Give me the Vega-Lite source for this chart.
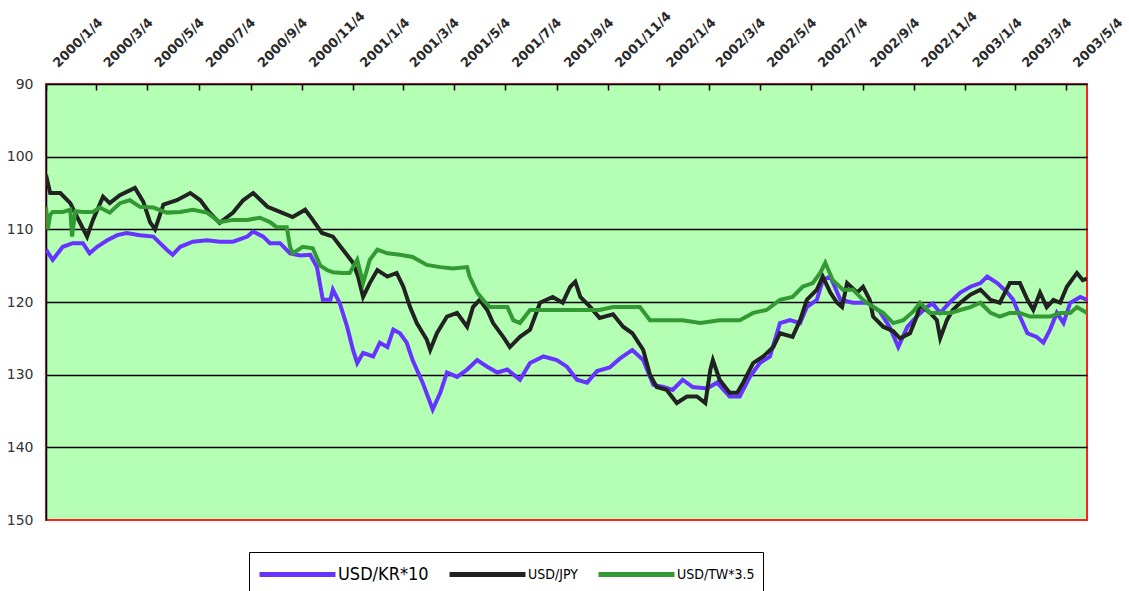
{
  "$schema": "https://vega.github.io/schema/vega-lite/v6.json",
  "autosize": "none",
  "width": 1041,
  "height": 436,
  "padding": {"left": 46, "top": 84, "right": 42, "bottom": 71},
  "background": "white",
  "config": {
    "view": {"fill": "#b4ffb4", "stroke": "#ff2020", "strokeWidth": 2},
    "axis": {"labelFont": "DejaVu Sans", "labelColor": "#333333"}
  },
  "data": {"values": [
{"d":"2000-01-04","s":"USD/KR*10","v":112.8},{"d":"2000-01-12","s":"USD/KR*10","v":114.2},{"d":"2000-01-24","s":"USD/KR*10","v":112.4},{"d":"2000-02-05","s":"USD/KR*10","v":111.9},{"d":"2000-02-17","s":"USD/KR*10","v":111.9},{"d":"2000-02-25","s":"USD/KR*10","v":113.3},{"d":"2000-03-05","s":"USD/KR*10","v":112.4},{"d":"2000-03-17","s":"USD/KR*10","v":111.5},{"d":"2000-03-29","s":"USD/KR*10","v":110.8},{"d":"2000-04-09","s":"USD/KR*10","v":110.5},{"d":"2000-04-25","s":"USD/KR*10","v":110.8},{"d":"2000-05-11","s":"USD/KR*10","v":111.0},{"d":"2000-05-27","s":"USD/KR*10","v":112.8},{"d":"2000-06-03","s":"USD/KR*10","v":113.5},{"d":"2000-06-12","s":"USD/KR*10","v":112.4},{"d":"2000-06-27","s":"USD/KR*10","v":111.7},{"d":"2000-07-14","s":"USD/KR*10","v":111.5},{"d":"2000-07-29","s":"USD/KR*10","v":111.7},{"d":"2000-08-14","s":"USD/KR*10","v":111.7},{"d":"2000-08-31","s":"USD/KR*10","v":111.0},{"d":"2000-09-07","s":"USD/KR*10","v":110.3},{"d":"2000-09-19","s":"USD/KR*10","v":111.0},{"d":"2000-09-27","s":"USD/KR*10","v":111.9},{"d":"2000-10-09","s":"USD/KR*10","v":111.9},{"d":"2000-10-21","s":"USD/KR*10","v":113.3},{"d":"2000-11-02","s":"USD/KR*10","v":113.6},{"d":"2000-11-14","s":"USD/KR*10","v":113.5},{"d":"2000-11-22","s":"USD/KR*10","v":115.2},{"d":"2000-11-29","s":"USD/KR*10","v":119.7},{"d":"2000-12-08","s":"USD/KR*10","v":119.7},{"d":"2000-12-11","s":"USD/KR*10","v":118.3},{"d":"2000-12-19","s":"USD/KR*10","v":120.1},{"d":"2000-12-28","s":"USD/KR*10","v":123.4},{"d":"2001-01-04","s":"USD/KR*10","v":126.6},{"d":"2001-01-09","s":"USD/KR*10","v":128.4},{"d":"2001-01-16","s":"USD/KR*10","v":127.0},{"d":"2001-01-28","s":"USD/KR*10","v":127.5},{"d":"2001-02-05","s":"USD/KR*10","v":125.6},{"d":"2001-02-14","s":"USD/KR*10","v":126.2},{"d":"2001-02-21","s":"USD/KR*10","v":123.8},{"d":"2001-03-01","s":"USD/KR*10","v":124.3},{"d":"2001-03-09","s":"USD/KR*10","v":125.6},{"d":"2001-03-16","s":"USD/KR*10","v":128.0},{"d":"2001-03-28","s":"USD/KR*10","v":131.1},{"d":"2001-04-09","s":"USD/KR*10","v":134.8},{"d":"2001-04-18","s":"USD/KR*10","v":132.5},{"d":"2001-04-26","s":"USD/KR*10","v":129.7},{"d":"2001-05-08","s":"USD/KR*10","v":130.3},{"d":"2001-05-20","s":"USD/KR*10","v":129.3},{"d":"2001-06-01","s":"USD/KR*10","v":128.0},{"d":"2001-06-13","s":"USD/KR*10","v":128.9},{"d":"2001-06-25","s":"USD/KR*10","v":129.7},{"d":"2001-07-07","s":"USD/KR*10","v":129.3},{"d":"2001-07-22","s":"USD/KR*10","v":130.7},{"d":"2001-08-03","s":"USD/KR*10","v":128.4},{"d":"2001-08-19","s":"USD/KR*10","v":127.5},{"d":"2001-09-04","s":"USD/KR*10","v":128.0},{"d":"2001-09-16","s":"USD/KR*10","v":128.9},{"d":"2001-09-28","s":"USD/KR*10","v":130.7},{"d":"2001-10-10","s":"USD/KR*10","v":131.1},{"d":"2001-10-22","s":"USD/KR*10","v":129.5},{"d":"2001-11-06","s":"USD/KR*10","v":129.0},{"d":"2001-11-18","s":"USD/KR*10","v":127.8},{"d":"2001-12-03","s":"USD/KR*10","v":126.6},{"d":"2001-12-16","s":"USD/KR*10","v":128.0},{"d":"2001-12-28","s":"USD/KR*10","v":131.4},{"d":"2002-01-09","s":"USD/KR*10","v":131.7},{"d":"2002-01-20","s":"USD/KR*10","v":132.1},{"d":"2002-02-01","s":"USD/KR*10","v":130.7},{"d":"2002-02-13","s":"USD/KR*10","v":131.7},{"d":"2002-03-02","s":"USD/KR*10","v":131.9},{"d":"2002-03-14","s":"USD/KR*10","v":131.1},{"d":"2002-03-29","s":"USD/KR*10","v":133.0},{"d":"2002-04-10","s":"USD/KR*10","v":133.0},{"d":"2002-04-22","s":"USD/KR*10","v":130.3},{"d":"2002-05-04","s":"USD/KR*10","v":128.4},{"d":"2002-05-16","s":"USD/KR*10","v":127.5},{"d":"2002-05-28","s":"USD/KR*10","v":122.9},{"d":"2002-06-09","s":"USD/KR*10","v":122.5},{"d":"2002-06-21","s":"USD/KR*10","v":122.9},{"d":"2002-06-29","s":"USD/KR*10","v":120.7},{"d":"2002-07-11","s":"USD/KR*10","v":119.7},{"d":"2002-07-18","s":"USD/KR*10","v":117.0},{"d":"2002-07-27","s":"USD/KR*10","v":116.5},{"d":"2002-08-08","s":"USD/KR*10","v":119.7},{"d":"2002-08-23","s":"USD/KR*10","v":120.1},{"d":"2002-09-09","s":"USD/KR*10","v":120.1},{"d":"2002-09-24","s":"USD/KR*10","v":121.3},{"d":"2002-10-06","s":"USD/KR*10","v":123.5},{"d":"2002-10-16","s":"USD/KR*10","v":126.2},{"d":"2002-10-27","s":"USD/KR*10","v":123.4},{"d":"2002-11-07","s":"USD/KR*10","v":122.0},{"d":"2002-11-19","s":"USD/KR*10","v":120.7},{"d":"2002-11-26","s":"USD/KR*10","v":120.2},{"d":"2002-12-05","s":"USD/KR*10","v":121.5},{"d":"2002-12-17","s":"USD/KR*10","v":120.0},{"d":"2002-12-29","s":"USD/KR*10","v":118.7},{"d":"2003-01-10","s":"USD/KR*10","v":117.9},{"d":"2003-01-22","s":"USD/KR*10","v":117.4},{"d":"2003-01-30","s":"USD/KR*10","v":116.5},{"d":"2003-02-11","s":"USD/KR*10","v":117.4},{"d":"2003-02-23","s":"USD/KR*10","v":118.7},{"d":"2003-03-02","s":"USD/KR*10","v":119.7},{"d":"2003-03-10","s":"USD/KR*10","v":122.0},{"d":"2003-03-19","s":"USD/KR*10","v":124.3},{"d":"2003-03-30","s":"USD/KR*10","v":124.8},{"d":"2003-04-07","s":"USD/KR*10","v":125.6},{"d":"2003-04-15","s":"USD/KR*10","v":123.8},{"d":"2003-04-23","s":"USD/KR*10","v":121.5},{"d":"2003-05-01","s":"USD/KR*10","v":122.9},{"d":"2003-05-09","s":"USD/KR*10","v":120.1},{"d":"2003-05-21","s":"USD/KR*10","v":119.3},{"d":"2003-05-29","s":"USD/KR*10","v":119.7},
{"d":"2000-01-04","s":"USD/JPY","v":102.5},{"d":"2000-01-09","s":"USD/JPY","v":105.0},{"d":"2000-01-21","s":"USD/JPY","v":105.0},{"d":"2000-02-02","s":"USD/JPY","v":106.4},{"d":"2000-02-10","s":"USD/JPY","v":108.3},{"d":"2000-02-22","s":"USD/JPY","v":111.0},{"d":"2000-02-29","s":"USD/JPY","v":108.7},{"d":"2000-03-12","s":"USD/JPY","v":105.5},{"d":"2000-03-20","s":"USD/JPY","v":106.4},{"d":"2000-04-01","s":"USD/JPY","v":105.3},{"d":"2000-04-19","s":"USD/JPY","v":104.3},{"d":"2000-04-29","s":"USD/JPY","v":106.2},{"d":"2000-05-07","s":"USD/JPY","v":109.0},{"d":"2000-05-13","s":"USD/JPY","v":110.0},{"d":"2000-05-23","s":"USD/JPY","v":106.6},{"d":"2000-06-08","s":"USD/JPY","v":106.0},{"d":"2000-06-24","s":"USD/JPY","v":105.0},{"d":"2000-07-06","s":"USD/JPY","v":106.0},{"d":"2000-07-17","s":"USD/JPY","v":107.7},{"d":"2000-07-29","s":"USD/JPY","v":109.1},{"d":"2000-08-14","s":"USD/JPY","v":107.7},{"d":"2000-08-26","s":"USD/JPY","v":106.0},{"d":"2000-09-07","s":"USD/JPY","v":105.0},{"d":"2000-09-24","s":"USD/JPY","v":106.9},{"d":"2000-10-09","s":"USD/JPY","v":107.6},{"d":"2000-10-24","s":"USD/JPY","v":108.3},{"d":"2000-11-08","s":"USD/JPY","v":107.3},{"d":"2000-11-17","s":"USD/JPY","v":108.7},{"d":"2000-11-28","s":"USD/JPY","v":110.5},{"d":"2000-12-11","s":"USD/JPY","v":111.0},{"d":"2000-12-23","s":"USD/JPY","v":112.8},{"d":"2001-01-04","s":"USD/JPY","v":114.6},{"d":"2001-01-10","s":"USD/JPY","v":116.5},{"d":"2001-01-16","s":"USD/JPY","v":119.3},{"d":"2001-01-24","s":"USD/JPY","v":117.4},{"d":"2001-02-02","s":"USD/JPY","v":115.6},{"d":"2001-02-14","s":"USD/JPY","v":116.5},{"d":"2001-02-25","s":"USD/JPY","v":116.0},{"d":"2001-03-05","s":"USD/JPY","v":117.9},{"d":"2001-03-13","s":"USD/JPY","v":120.7},{"d":"2001-03-21","s":"USD/JPY","v":122.9},{"d":"2001-04-02","s":"USD/JPY","v":125.2},{"d":"2001-04-06","s":"USD/JPY","v":126.6},{"d":"2001-04-14","s":"USD/JPY","v":124.3},{"d":"2001-04-26","s":"USD/JPY","v":122.0},{"d":"2001-05-08","s":"USD/JPY","v":121.5},{"d":"2001-05-20","s":"USD/JPY","v":123.4},{"d":"2001-05-27","s":"USD/JPY","v":120.7},{"d":"2001-06-04","s":"USD/JPY","v":119.7},{"d":"2001-06-13","s":"USD/JPY","v":121.1},{"d":"2001-06-20","s":"USD/JPY","v":122.9},{"d":"2001-07-02","s":"USD/JPY","v":124.8},{"d":"2001-07-10","s":"USD/JPY","v":126.2},{"d":"2001-07-22","s":"USD/JPY","v":124.8},{"d":"2001-08-03","s":"USD/JPY","v":123.8},{"d":"2001-08-15","s":"USD/JPY","v":120.1},{"d":"2001-08-30","s":"USD/JPY","v":119.3},{"d":"2001-09-11","s":"USD/JPY","v":120.1},{"d":"2001-09-20","s":"USD/JPY","v":117.9},{"d":"2001-09-26","s":"USD/JPY","v":117.2},{"d":"2001-10-02","s":"USD/JPY","v":119.3},{"d":"2001-10-14","s":"USD/JPY","v":120.7},{"d":"2001-10-25","s":"USD/JPY","v":122.2},{"d":"2001-11-10","s":"USD/JPY","v":121.7},{"d":"2001-11-22","s":"USD/JPY","v":123.4},{"d":"2001-12-03","s":"USD/JPY","v":124.3},{"d":"2001-12-16","s":"USD/JPY","v":126.6},{"d":"2001-12-24","s":"USD/JPY","v":130.0},{"d":"2002-01-01","s":"USD/JPY","v":131.7},{"d":"2002-01-13","s":"USD/JPY","v":132.1},{"d":"2002-01-25","s":"USD/JPY","v":133.9},{"d":"2002-02-06","s":"USD/JPY","v":133.0},{"d":"2002-02-18","s":"USD/JPY","v":133.0},{"d":"2002-02-28","s":"USD/JPY","v":133.9},{"d":"2002-03-06","s":"USD/JPY","v":129.3},{"d":"2002-03-09","s":"USD/JPY","v":128.0},{"d":"2002-03-17","s":"USD/JPY","v":130.7},{"d":"2002-03-29","s":"USD/JPY","v":132.5},{"d":"2002-04-07","s":"USD/JPY","v":132.5},{"d":"2002-04-14","s":"USD/JPY","v":131.1},{"d":"2002-04-26","s":"USD/JPY","v":128.4},{"d":"2002-05-08","s":"USD/JPY","v":127.5},{"d":"2002-05-20","s":"USD/JPY","v":126.2},{"d":"2002-05-28","s":"USD/JPY","v":124.3},{"d":"2002-06-12","s":"USD/JPY","v":124.8},{"d":"2002-06-21","s":"USD/JPY","v":122.5},{"d":"2002-06-29","s":"USD/JPY","v":119.7},{"d":"2002-07-11","s":"USD/JPY","v":118.3},{"d":"2002-07-18","s":"USD/JPY","v":116.5},{"d":"2002-07-27","s":"USD/JPY","v":118.7},{"d":"2002-08-04","s":"USD/JPY","v":120.1},{"d":"2002-08-10","s":"USD/JPY","v":120.7},{"d":"2002-08-16","s":"USD/JPY","v":117.4},{"d":"2002-08-28","s":"USD/JPY","v":118.7},{"d":"2002-09-04","s":"USD/JPY","v":117.9},{"d":"2002-09-12","s":"USD/JPY","v":119.7},{"d":"2002-09-16","s":"USD/JPY","v":122.0},{"d":"2002-09-28","s":"USD/JPY","v":123.4},{"d":"2002-10-10","s":"USD/JPY","v":124.0},{"d":"2002-10-18","s":"USD/JPY","v":125.0},{"d":"2002-10-30","s":"USD/JPY","v":124.3},{"d":"2002-11-07","s":"USD/JPY","v":122.0},{"d":"2002-11-11","s":"USD/JPY","v":120.4},{"d":"2002-11-23","s":"USD/JPY","v":121.5},{"d":"2002-12-01","s":"USD/JPY","v":122.5},{"d":"2002-12-05","s":"USD/JPY","v":125.0},{"d":"2002-12-13","s":"USD/JPY","v":122.5},{"d":"2002-12-20","s":"USD/JPY","v":121.1},{"d":"2002-12-29","s":"USD/JPY","v":120.1},{"d":"2003-01-10","s":"USD/JPY","v":119.0},{"d":"2003-01-22","s":"USD/JPY","v":118.3},{"d":"2003-02-03","s":"USD/JPY","v":119.7},{"d":"2003-02-14","s":"USD/JPY","v":120.1},{"d":"2003-02-26","s":"USD/JPY","v":117.4},{"d":"2003-03-10","s":"USD/JPY","v":117.4},{"d":"2003-03-19","s":"USD/JPY","v":119.7},{"d":"2003-03-26","s":"USD/JPY","v":121.1},{"d":"2003-04-03","s":"USD/JPY","v":118.7},{"d":"2003-04-11","s":"USD/JPY","v":120.7},{"d":"2003-04-19","s":"USD/JPY","v":119.7},{"d":"2003-04-27","s":"USD/JPY","v":120.1},{"d":"2003-05-05","s":"USD/JPY","v":117.9},{"d":"2003-05-17","s":"USD/JPY","v":116.0},{"d":"2003-05-24","s":"USD/JPY","v":117.0},{"d":"2003-05-29","s":"USD/JPY","v":116.8},
{"d":"2000-01-04","s":"USD/TW*3.5","v":106.9},{"d":"2000-01-06","s":"USD/TW*3.5","v":110.0},{"d":"2000-01-09","s":"USD/TW*3.5","v":108.0},{"d":"2000-01-12","s":"USD/TW*3.5","v":107.6},{"d":"2000-01-24","s":"USD/TW*3.5","v":107.6},{"d":"2000-02-02","s":"USD/TW*3.5","v":107.3},{"d":"2000-02-04","s":"USD/TW*3.5","v":111.0},{"d":"2000-02-08","s":"USD/TW*3.5","v":107.5},{"d":"2000-02-17","s":"USD/TW*3.5","v":107.6},{"d":"2000-02-29","s":"USD/TW*3.5","v":107.6},{"d":"2000-03-08","s":"USD/TW*3.5","v":107.0},{"d":"2000-03-20","s":"USD/TW*3.5","v":107.7},{"d":"2000-04-01","s":"USD/TW*3.5","v":106.4},{"d":"2000-04-13","s":"USD/TW*3.5","v":106.0},{"d":"2000-04-25","s":"USD/TW*3.5","v":106.9},{"d":"2000-05-11","s":"USD/TW*3.5","v":107.0},{"d":"2000-05-27","s":"USD/TW*3.5","v":107.7},{"d":"2000-06-12","s":"USD/TW*3.5","v":107.6},{"d":"2000-06-27","s":"USD/TW*3.5","v":107.3},{"d":"2000-07-14","s":"USD/TW*3.5","v":107.7},{"d":"2000-07-29","s":"USD/TW*3.5","v":109.0},{"d":"2000-08-14","s":"USD/TW*3.5","v":108.7},{"d":"2000-08-31","s":"USD/TW*3.5","v":108.7},{"d":"2000-09-15","s":"USD/TW*3.5","v":108.4},{"d":"2000-09-27","s":"USD/TW*3.5","v":109.0},{"d":"2000-10-05","s":"USD/TW*3.5","v":109.7},{"d":"2000-10-17","s":"USD/TW*3.5","v":109.7},{"d":"2000-10-21","s":"USD/TW*3.5","v":112.4},{"d":"2000-10-24","s":"USD/TW*3.5","v":113.3},{"d":"2000-11-05","s":"USD/TW*3.5","v":112.4},{"d":"2000-11-17","s":"USD/TW*3.5","v":112.6},{"d":"2000-11-26","s":"USD/TW*3.5","v":115.0},{"d":"2000-12-04","s":"USD/TW*3.5","v":115.6},{"d":"2000-12-11","s":"USD/TW*3.5","v":115.9},{"d":"2000-12-23","s":"USD/TW*3.5","v":116.0},{"d":"2000-12-31","s":"USD/TW*3.5","v":116.0},{"d":"2001-01-09","s":"USD/TW*3.5","v":114.2},{"d":"2001-01-16","s":"USD/TW*3.5","v":117.4},{"d":"2001-01-24","s":"USD/TW*3.5","v":114.2},{"d":"2001-02-02","s":"USD/TW*3.5","v":112.8},{"d":"2001-02-14","s":"USD/TW*3.5","v":113.3},{"d":"2001-03-01","s":"USD/TW*3.5","v":113.5},{"d":"2001-03-16","s":"USD/TW*3.5","v":113.8},{"d":"2001-04-02","s":"USD/TW*3.5","v":114.9},{"d":"2001-04-18","s":"USD/TW*3.5","v":115.2},{"d":"2001-05-03","s":"USD/TW*3.5","v":115.4},{"d":"2001-05-20","s":"USD/TW*3.5","v":115.2},{"d":"2001-05-23","s":"USD/TW*3.5","v":116.5},{"d":"2001-06-01","s":"USD/TW*3.5","v":118.7},{"d":"2001-06-08","s":"USD/TW*3.5","v":119.7},{"d":"2001-06-16","s":"USD/TW*3.5","v":120.7},{"d":"2001-07-07","s":"USD/TW*3.5","v":120.7},{"d":"2001-07-14","s":"USD/TW*3.5","v":122.5},{"d":"2001-07-22","s":"USD/TW*3.5","v":122.9},{"d":"2001-08-03","s":"USD/TW*3.5","v":121.1},{"d":"2001-08-19","s":"USD/TW*3.5","v":121.1},{"d":"2001-09-04","s":"USD/TW*3.5","v":121.1},{"d":"2001-09-20","s":"USD/TW*3.5","v":121.1},{"d":"2001-10-05","s":"USD/TW*3.5","v":121.1},{"d":"2001-10-25","s":"USD/TW*3.5","v":121.1},{"d":"2001-11-10","s":"USD/TW*3.5","v":120.7},{"d":"2001-11-27","s":"USD/TW*3.5","v":120.7},{"d":"2001-12-12","s":"USD/TW*3.5","v":120.7},{"d":"2001-12-24","s":"USD/TW*3.5","v":122.5},{"d":"2002-01-09","s":"USD/TW*3.5","v":122.5},{"d":"2002-02-01","s":"USD/TW*3.5","v":122.5},{"d":"2002-02-22","s":"USD/TW*3.5","v":122.9},{"d":"2002-03-17","s":"USD/TW*3.5","v":122.5},{"d":"2002-04-10","s":"USD/TW*3.5","v":122.5},{"d":"2002-04-26","s":"USD/TW*3.5","v":121.5},{"d":"2002-05-12","s":"USD/TW*3.5","v":121.1},{"d":"2002-05-28","s":"USD/TW*3.5","v":119.7},{"d":"2002-06-12","s":"USD/TW*3.5","v":119.3},{"d":"2002-06-24","s":"USD/TW*3.5","v":117.9},{"d":"2002-07-06","s":"USD/TW*3.5","v":117.4},{"d":"2002-07-15","s":"USD/TW*3.5","v":116.0},{"d":"2002-07-21","s":"USD/TW*3.5","v":114.6},{"d":"2002-07-30","s":"USD/TW*3.5","v":117.0},{"d":"2002-08-11","s":"USD/TW*3.5","v":118.3},{"d":"2002-08-23","s":"USD/TW*3.5","v":118.3},{"d":"2002-09-04","s":"USD/TW*3.5","v":119.7},{"d":"2002-09-16","s":"USD/TW*3.5","v":120.7},{"d":"2002-09-28","s":"USD/TW*3.5","v":121.5},{"d":"2002-10-10","s":"USD/TW*3.5","v":122.9},{"d":"2002-10-22","s":"USD/TW*3.5","v":122.5},{"d":"2002-11-03","s":"USD/TW*3.5","v":121.3},{"d":"2002-11-11","s":"USD/TW*3.5","v":120.1},{"d":"2002-11-23","s":"USD/TW*3.5","v":121.5},{"d":"2002-12-05","s":"USD/TW*3.5","v":121.5},{"d":"2002-12-17","s":"USD/TW*3.5","v":121.5},{"d":"2002-12-29","s":"USD/TW*3.5","v":121.1},{"d":"2003-01-10","s":"USD/TW*3.5","v":120.7},{"d":"2003-01-22","s":"USD/TW*3.5","v":120.1},{"d":"2003-02-03","s":"USD/TW*3.5","v":121.5},{"d":"2003-02-14","s":"USD/TW*3.5","v":122.0},{"d":"2003-02-26","s":"USD/TW*3.5","v":121.5},{"d":"2003-03-10","s":"USD/TW*3.5","v":121.5},{"d":"2003-03-22","s":"USD/TW*3.5","v":122.0},{"d":"2003-04-03","s":"USD/TW*3.5","v":122.0},{"d":"2003-04-15","s":"USD/TW*3.5","v":122.0},{"d":"2003-04-27","s":"USD/TW*3.5","v":121.5},{"d":"2003-05-09","s":"USD/TW*3.5","v":121.5},{"d":"2003-05-17","s":"USD/TW*3.5","v":120.7},{"d":"2003-05-29","s":"USD/TW*3.5","v":121.5}
  ]},
  "mark": {"type": "line", "strokeWidth": 4, "clip": true},
  "encoding": {
    "x": {
      "field": "d", "type": "temporal",
      "scale": {"type": "utc", "domain": [{"year": 2000, "month": 1, "date": 4, "utc": true}, {"year": 2003, "month": 5, "date": 29, "utc": true}]},
      "axis": {
        "orient": "top", "title": null, "grid": false,
        "values": [
          {"year":2000,"month":1,"date":4,"utc":true},{"year":2000,"month":3,"date":4,"utc":true},{"year":2000,"month":5,"date":4,"utc":true},{"year":2000,"month":7,"date":4,"utc":true},{"year":2000,"month":9,"date":4,"utc":true},{"year":2000,"month":11,"date":4,"utc":true},
          {"year":2001,"month":1,"date":4,"utc":true},{"year":2001,"month":3,"date":4,"utc":true},{"year":2001,"month":5,"date":4,"utc":true},{"year":2001,"month":7,"date":4,"utc":true},{"year":2001,"month":9,"date":4,"utc":true},{"year":2001,"month":11,"date":4,"utc":true},
          {"year":2002,"month":1,"date":4,"utc":true},{"year":2002,"month":3,"date":4,"utc":true},{"year":2002,"month":5,"date":4,"utc":true},{"year":2002,"month":7,"date":4,"utc":true},{"year":2002,"month":9,"date":4,"utc":true},{"year":2002,"month":11,"date":4,"utc":true},
          {"year":2003,"month":1,"date":4,"utc":true},{"year":2003,"month":3,"date":4,"utc":true},{"year":2003,"month":5,"date":4,"utc":true}
        ],
        "labelExpr": "utcFormat(datum.value, '%Y/%-m/%-d')",
        "labelAngle": -45, "labelAlign": "left", "labelBaseline": "middle",
        "labelFontSize": 13, "labelFontWeight": "bold", "labelColor": "#2a2a2a",
        "labelPadding": 25, "labelOffset": 9, "labelBound": false, "labelOverlap": false, "labelFlush": false,
        "tickSize": -6, "tickColor": "black", "tickWidth": 1.5,
        "domainColor": "black", "domainWidth": 1.5
      }
    },
    "y": {
      "field": "v", "type": "quantitative",
      "scale": {"domain": [90, 150], "reverse": true, "nice": false, "zero": false},
      "axis": {
        "title": null, "values": [90, 100, 110, 120, 130, 140, 150],
        "grid": true, "gridColor": "black", "gridWidth": 1.5,
        "gridOpacity": {"condition": {"test": "datum.value == 150 || datum.value == 90", "value": 0}, "value": 1},
        "ticks": false, "labelPadding": 13, "labelFontSize": 14, "labelColor": "#333333",
        "domainColor": "black", "domainWidth": 1.5
      }
    },
    "color": {
      "field": "s", "type": "nominal", "sort": null,
      "scale": {"domain": ["USD/KR*10", "USD/JPY", "USD/TW*3.5"], "range": ["#6633ff", "#222222", "#339933"]},
      "legend": {
        "title": null, "orient": "none", "legendX": 203, "legendY": 468,
        "direction": "horizontal", "strokeColor": "black", "fillColor": "white",
        "padding": 8, "symbolType": "M-1,0H5.333", "symbolSize": 576, "symbolStrokeWidth": 5,
        "symbolFillColor": "transparent", "gridAlign": "none",
        "labelFont": "DejaVu Sans Condensed", "labelFontSize": 14, "labelColor": "black",
        "labelOffset": 52, "columnSpacing": 8, "labelLimit": 200,
        "encode": {"labels": {"update": {"fontSize": {"signal": "datum.label == 'USD/KR*10' ? 18 : 14"}}}}
      }
    }
  }
}
